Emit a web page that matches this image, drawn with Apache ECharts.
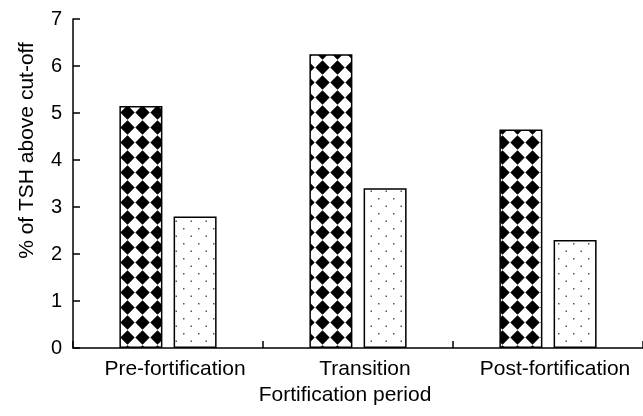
<!DOCTYPE html>
<html>
<head>
<meta charset="utf-8">
<script src="https://cdn.jsdelivr.net/npm/echarts@6/dist/echarts.min.js"></script>
<style>
html,body{margin:0;padding:0;background:#fff}
#main{width:643px;height:416px}
</style>
</head>
<body>
<div id="main"></div>
<script>
var categories=['Pre-fortification','Transition','Post-fortification']
var diamondValues=[5.15,6.25,4.65]
var dottedValues=[2.8,3.4,2.3]
var yMin=0, yMax=7, yStep=1

// pattern tiles
function diamondTile(){
    var c=document.createElement('canvas')
    c.width=15;c.height=15
    var g=c.getContext('2d')
    g.fillStyle='#fff';g.fillRect(0,0,15,15)
    g.fillStyle='#000'
    g.beginPath()
    g.moveTo(7.5,0.3);g.lineTo(14.7,7.5);g.lineTo(7.5,14.7);g.lineTo(0.3,7.5)
    g.closePath();g.fill()
    return c
}
function dotTile(){
    var c=document.createElement('canvas')
    c.width=15;c.height=15
    var g=c.getContext('2d')
    g.fillStyle='#fff';g.fillRect(0,0,15,15)
    g.fillStyle='#555'
    g.fillRect(3,3,1.5,1.5)
    g.fillRect(10.5,10.5,1.5,1.5)
    return c
}

var myChart=echarts.init(document.getElementById('main'))
var font='"Liberation Sans", Arial, sans-serif'
var option={
    backgroundColor:'#fff',
    animation:false,
    grid:{left:73,right:0,top:19,bottom:68},
    xAxis:{
        type:'category',
        data:categories,
        name:'Fortification period',
        nameLocation:'middle',
        nameGap:37,
        nameTextStyle:{fontFamily:font,fontSize:21,color:'#000',padding:[0,26,0,0]},
        axisLine:{lineStyle:{color:'#000',width:1.5}},
        axisTick:{show:true,inside:true,length:7,lineStyle:{color:'#000',width:1.5}},
        axisLabel:{fontFamily:font,fontSize:21,color:'#000',margin:11,interval:0,hideOverlap:false,padding:[0,0,0,14]}
    },
    yAxis:{
        type:'value',
        min:yMin,
        max:yMax,
        interval:yStep,
        name:'% of TSH above cut-off',
        nameLocation:'middle',
        nameGap:35,
        nameTextStyle:{fontFamily:font,fontSize:21,color:'#000',padding:[0,0,0,66]},
        splitLine:{show:false},
        axisLine:{show:true,lineStyle:{color:'#000',width:1.5}},
        axisTick:{show:true,inside:true,length:7,lineStyle:{color:'#000',width:1.5}},
        axisLabel:{fontFamily:font,fontSize:20,color:'#000',margin:11}
    },
    series:[
        {
            type:'bar',
            name:'A',
            data:diamondValues,
            barWidth:43,
            barGap:'26%',
            itemStyle:{
                color:{image:diamondTile(),repeat:'repeat'},
                borderColor:'#000',
                borderWidth:1.5
            }
        },
        {
            type:'bar',
            name:'B',
            data:dottedValues,
            barWidth:43,
            barGap:'26%',
            itemStyle:{
                color:{image:dotTile(),repeat:'repeat'},
                borderColor:'#000',
                borderWidth:1.5
            }
        }
    ]
}
myChart.setOption(option)
</script>
</body>
</html>
